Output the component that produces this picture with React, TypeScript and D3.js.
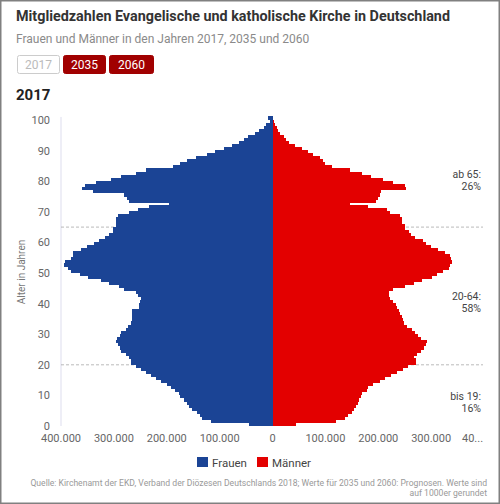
import React from "react";
import * as d3 from "d3";

// Members (in thousands) by age 0..100, year 2017
const ages: number[] = d3.range(0, 101);
const frauen: number[] = [
  45, 117, 133, 138, 142, 152, 158, 161, 168, 174,
  177, 185, 192, 200, 211, 221, 230, 240, 249, 258,
  268, 268, 271, 277, 286, 288, 293, 296, 294, 288,
  286, 277, 274, 268, 266, 266, 266, 265, 252, 252,
  250, 249, 255, 258, 280, 290, 309, 325, 348, 365,
  381, 387, 394, 392, 381, 377, 377, 362, 350, 337,
  328, 316, 309, 302, 302, 296, 296, 296, 292, 271,
  255, 234, 196, 272, 275, 281, 340, 360, 355, 334,
  306, 287, 258, 240, 189, 175, 161, 145, 123, 108,
  92, 77, 64, 54, 46, 34, 25, 16, 13, 5,
  8,
];
const maenner: number[] = [
  45, 121, 138, 142, 150, 155, 157, 162, 163, 168,
  170, 178, 181, 190, 203, 213, 225, 235, 247, 257,
  272, 272, 268, 273, 280, 286, 290, 292, 280, 275,
  270, 263, 255, 248, 247, 245, 242, 240, 236, 233,
  228, 223, 221, 220, 228, 250, 268, 283, 302, 312,
  322, 333, 336, 340, 338, 335, 326, 313, 300, 290,
  285, 269, 262, 258, 250, 250, 244, 244, 241, 222,
  216, 181, 147, 196, 200, 203, 205, 252, 250, 228,
  209, 187, 169, 147, 112, 100, 96, 90, 77, 68,
  55, 43, 31, 25, 22, 14, 11, 9, 5, 3,
  1,
];
const xTicks: number[] = [-400, -300, -200, -100, 0, 100, 200, 300];
const xTickLabels: string[] = ["400.000", "300.000", "200.000", "100.000", "0", "100.000", "200.000", "300.000"];
const yTicks: number[] = [0, 10, 20, 30, 40, 50, 60, 70, 80, 90, 100];
const groupLines: number[] = [65, 20];
const groupLabels: string[][] = [["ab 65:", "26%"], ["20-64:", "58%"], ["bis 19:", "16%"]];
const years: string[] = ["2017", "2035", "2060"];

const BLUE = "#1b4495";
const RED = "#e30000";
const DARKRED = "#a10000";
const FONT = "Roboto, 'Open Sans', sans-serif";

export default function App() {
  const x = d3.scaleLinear().domain([-400, 400]).range([61, 484]);
  const y = d3.scaleLinear().domain([0, 101]).range([426, 426 - 101 * 3.06]);
  const bandTop = (a: number) => y(a + 1);
  const bandH = (a: number) => y(a) - y(a + 1);

  const labelY = [[178, 190], [300, 312], [400, 412]];

  return (
    <svg
      width={500}
      height={504}
      style={{ position: "absolute", left: 0, top: 0, background: "#fff" }}
      fontFamily={FONT}
    >
      <rect x={0.75} y={0.75} width={498.5} height={502.5} fill="#fff" stroke="#808080" strokeWidth={1.5} />
      <text x={16} y={21} fontSize={14.5} fontWeight="bold" fill="#333" textLength={434} lengthAdjust="spacingAndGlyphs">
        Mitgliedzahlen Evangelische und katholische Kirche in Deutschland
      </text>
      <text x={16} y={43} fontSize={12} fill="#8a8a8a">
        Frauen und Männer in den Jahren 2017, 2035 und 2060
      </text>
      {years.map((yr, i) => {
        const bx = [17, 63, 109][i];
        const bw = [42, 42, 44][i];
        const active = i === 0;
        return (
          <g key={yr}>
            <rect
              x={bx + 0.5}
              y={55.5}
              width={bw}
              height={18}
              rx={2}
              fill={active ? "#fff" : DARKRED}
              stroke={active ? "#ccc" : DARKRED}
            />
            <text x={bx + 0.5 + bw / 2} y={68.5} fontSize={12} textAnchor="middle" fill={active ? "#bbb" : "#fff"}>
              {yr}
            </text>
          </g>
        );
      })}
      <text x={16} y={100} fontSize={15} fontWeight="bold" fill="#222">
        2017
      </text>

      {/* axis line */}
      <line x1={61} x2={61} y1={y(101)} y2={y(0)} stroke="#dde" strokeWidth={1} />

      {/* group separators */}
      {groupLines.map((g) => (
        <line key={g} x1={61} x2={483} y1={y(g)} y2={y(g)} stroke="#aaa" strokeWidth={0.8} strokeDasharray="3,2" />
      ))}

      {/* bars */}
      <g shapeRendering="crispEdges">
        {ages.map((a) => (
          <rect
            key={"f" + a}
            x={x(-frauen[a])}
            y={bandTop(a) - 0.5}
            width={x(0) - x(-frauen[a]) + 0.5}
            height={bandH(a) + 0.5}
            fill={BLUE}
          />
        ))}
        {ages.map((a) => (
          <rect
            key={"m" + a}
            x={x(0)}
            y={bandTop(a) - 0.5}
            width={x(maenner[a]) - x(0)}
            height={bandH(a) + 0.5}
            fill={RED}
          />
        ))}
      </g>

      {/* y ticks */}
      {yTicks.map((t) => (
        <text key={t} x={50} y={y(t) + 4} fontSize={11} textAnchor="end" fill="#666">
          {t}
        </text>
      ))}
      <text transform={`translate(25,272) rotate(-90)`} fontSize={10} textAnchor="middle" fill="#777">
        Alter in Jahren
      </text>

      {/* x ticks */}
      {xTicks.map((t, i) => (
        <text key={i} x={x(t)} y={442} fontSize={11} textAnchor="middle" fill="#666">
          {xTickLabels[i]}
        </text>
      ))}
      <text x={462} y={442} fontSize={11} fill="#666">
        40...
      </text>

      {/* group labels */}
      {groupLabels.map((lbl, i) => (
        <g key={i}>
          <text x={481} y={labelY[i][0]} fontSize={10.5} textAnchor="end" fill="#444">
            {lbl[0]}
          </text>
          <text x={481} y={labelY[i][1]} fontSize={10.5} textAnchor="end" fill="#444">
            {lbl[1]}
          </text>
        </g>
      ))}

      {/* legend */}
      <rect x={197} y={457} width={11} height={10} fill={BLUE} />
      <text x={212} y={466.5} fontSize={11.5} fill="#444">
        Frauen
      </text>
      <rect x={257} y={457} width={11} height={10} fill={RED} />
      <text x={272} y={466.5} fontSize={11.5} fill="#444">
        Männer
      </text>

      {/* source */}
      <text x={487} y={486} fontSize={8.6} textAnchor="end" fill="#999">
        Quelle: Kirchenamt der EKD, Verband der Diözesen Deutschlands 2018; Werte für 2035 und 2060: Prognosen. Werte sind
      </text>
      <text x={487} y={496} fontSize={8.6} textAnchor="end" fill="#999">
        auf 1000er gerundet
      </text>
    </svg>
  );
}
